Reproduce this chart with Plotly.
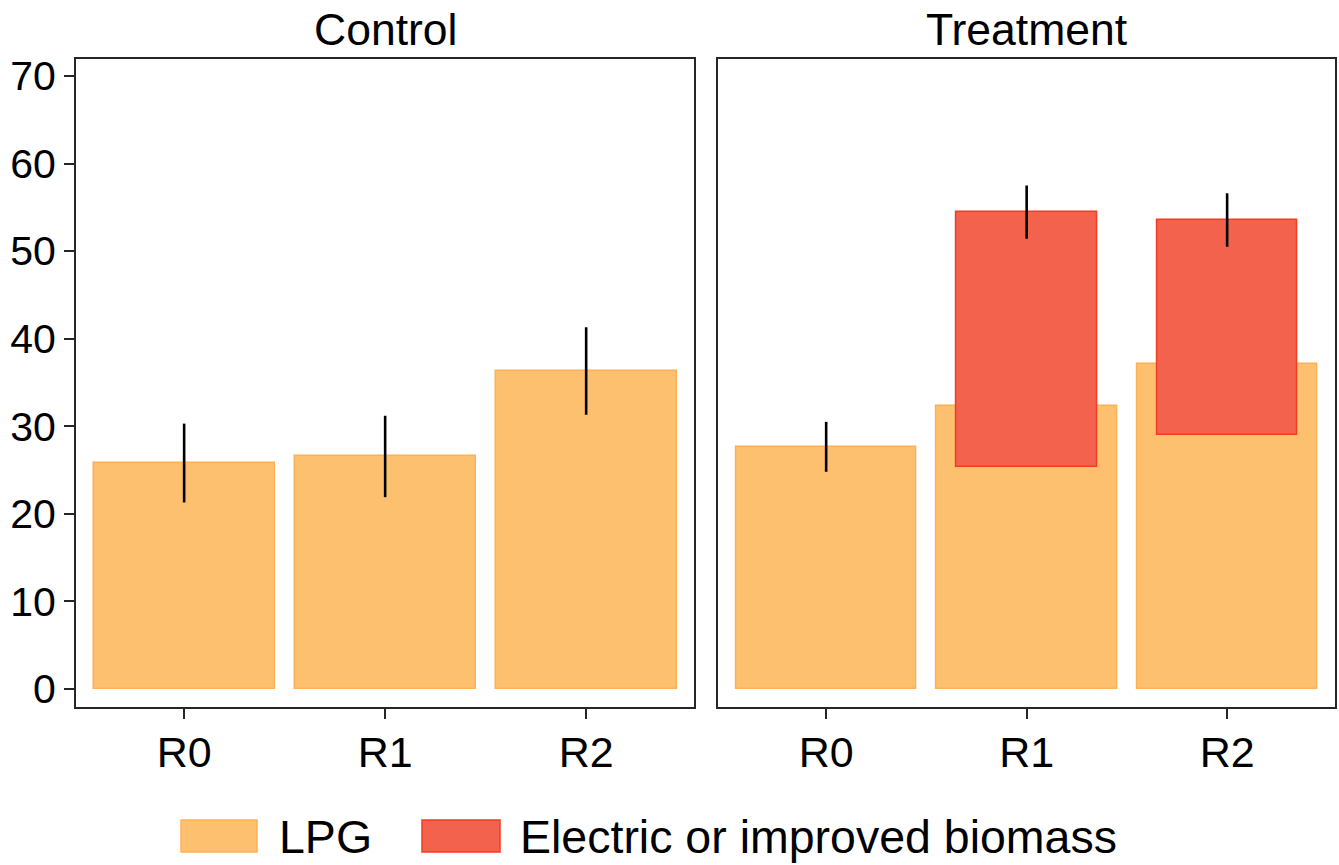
import plotly.graph_objects as go

# ---- data ----
categories = ["R0", "R1", "R2"]
control_lpg = [25.8, 26.6, 36.3]
control_lpg_low = [21.3, 21.9, 31.3]
control_lpg_high = [30.3, 31.2, 41.3]

treat_lpg = [27.6, 32.3, 37.1]
treat_lpg_low = [24.8, 32.3, 37.1]
treat_lpg_high = [30.5, 32.3, 37.1]

treat_elec_base = [None, 25.4, 29.0]
treat_elec_top = [None, 54.5, 53.5]
treat_elec_low = [None, 51.4, 50.5]
treat_elec_high = [None, 57.5, 56.6]

y_ticks = [0, 10, 20, 30, 40, 50, 60, 70]
panel_titles = ["Control", "Treatment"]
legend_labels = ["LPG", "Electric or improved biomass"]

# ---- style ----
FONT = "Liberation Sans, Arial, Helvetica, sans-serif"
LPG_FILL = "#FDC06F"
LPG_LINE = "#FDB055"
ELEC_FILL = "#F2624D"
ELEC_LINE = "#EF3E24"
FRAME = "#262626"

W, H = 1339, 865
ML, MR, MT, MB = 76, 4, 59, 158
PW, PH = W - ML - MR, H - MT - MB


def px_x(px):
    return (px - ML) / PW


def px_y(py):
    return (H - MB - py) / PH


def err_plus(top, high):
    return [(h - t) if t is not None else 0 for t, h in zip(top, high)]


def err_minus(top, low):
    return [(t - l) if t is not None else 0 for t, l in zip(top, low)]


fig = go.Figure()

# Control LPG
fig.add_trace(go.Bar(
    x=categories, y=control_lpg, width=0.9, xaxis="x", yaxis="y",
    marker=dict(color=LPG_FILL, line=dict(color=LPG_LINE, width=1.5)),
    error_y=dict(type="data", symmetric=False,
                 array=err_plus(control_lpg, control_lpg_high),
                 arrayminus=err_minus(control_lpg, control_lpg_low),
                 width=0, thickness=2.6, color="black"),
    name=legend_labels[0], showlegend=False,
))

# Treatment LPG
fig.add_trace(go.Bar(
    x=categories, y=treat_lpg, width=0.9, xaxis="x2", yaxis="y2",
    marker=dict(color=LPG_FILL, line=dict(color=LPG_LINE, width=1.5)),
    error_y=dict(type="data", symmetric=False,
                 array=err_plus(treat_lpg, treat_lpg_high),
                 arrayminus=err_minus(treat_lpg, treat_lpg_low),
                 width=0, thickness=2.6, color="black"),
    name=legend_labels[0], showlegend=False,
))

# Treatment electric / improved biomass (floating bars)
elec_size = [(t - b) if t is not None else None for t, b in zip(treat_elec_top, treat_elec_base)]
elec_base = [b if b is not None else 0 for b in treat_elec_base]
fig.add_trace(go.Bar(
    x=categories, y=elec_size, base=elec_base, width=0.7, xaxis="x2", yaxis="y2",
    marker=dict(color=ELEC_FILL, line=dict(color=ELEC_LINE, width=1.5)),
    error_y=dict(type="data", symmetric=False,
                 array=err_plus(treat_elec_top, treat_elec_high),
                 arrayminus=err_minus(treat_elec_top, treat_elec_low),
                 width=0, thickness=2.6, color="black"),
    name=legend_labels[1], showlegend=False,
))

x_range = [-0.538, 2.538]
y_range = [-2.06, 71.94]

axis_common = dict(
    showline=True, linecolor=FRAME, linewidth=2, mirror=True,
    showgrid=False, zeroline=False,
    ticks="outside", ticklen=10, tickwidth=2, tickcolor=FRAME,
)
y_tickfont = dict(family=FONT, size=41, color="black")
x_tickfont = dict(family=FONT, size=43, color="black")

fig.update_layout(
    width=W, height=H,
    margin=dict(l=ML, r=MR, t=MT, b=MB, autoexpand=False),
    paper_bgcolor="white", plot_bgcolor="white",
    barmode="overlay", bargap=0,
    showlegend=False,
    font=dict(family=FONT, color="black"),
    xaxis=dict(domain=[0, px_x(694.3)], range=x_range, anchor="y",
               ticklabelstandoff=-4, tickfont=x_tickfont, **axis_common),
    xaxis2=dict(domain=[px_x(718.3), 1], range=x_range, anchor="y2",
                ticklabelstandoff=-4, tickfont=x_tickfont, **axis_common),
    yaxis=dict(domain=[0, 1], range=y_range, anchor="x", tickvals=y_ticks,
               tickfont=y_tickfont, **axis_common),
    yaxis2=dict(domain=[0, 1], range=y_range, anchor="x2", tickvals=y_ticks,
                showticklabels=False, **{k: v for k, v in axis_common.items() if k not in ("ticks",)},
                ticks=""),
)

# panel titles
for i, (title, dom) in enumerate(zip(panel_titles, [fig.layout.xaxis.domain, fig.layout.xaxis2.domain])):
    fig.add_annotation(
        text=title, xref="paper", yref="paper",
        x=(dom[0] + dom[1]) / 2, y=px_y(30), xanchor="center", yanchor="middle",
        showarrow=False, font=dict(family=FONT, size=44.5, color="black"),
    )

# legend (manual, bottom)
legend_items = [
    (legend_labels[0], LPG_FILL, LPG_LINE, 181, 257, 277),
    (legend_labels[1], ELEC_FILL, ELEC_LINE, 422, 500, 518),
]
for label, fill, line, x0, x1, tx in legend_items:
    fig.add_shape(type="rect", xref="paper", yref="paper",
                  x0=px_x(x0), x1=px_x(x1), y0=px_y(852), y1=px_y(820),
                  fillcolor=fill, line=dict(color=line, width=1.5))
    fig.add_annotation(text=label, xref="paper", yref="paper",
                       x=px_x(tx), y=px_y(837), xanchor="left", yanchor="middle",
                       showarrow=False, font=dict(family=FONT, size=46.5, color="black"))

fig.write_html(
    "out.html",
    config={"displayModeBar": False},
    post_script="document.body.style.margin='0';document.body.style.overflow='hidden';",
)
